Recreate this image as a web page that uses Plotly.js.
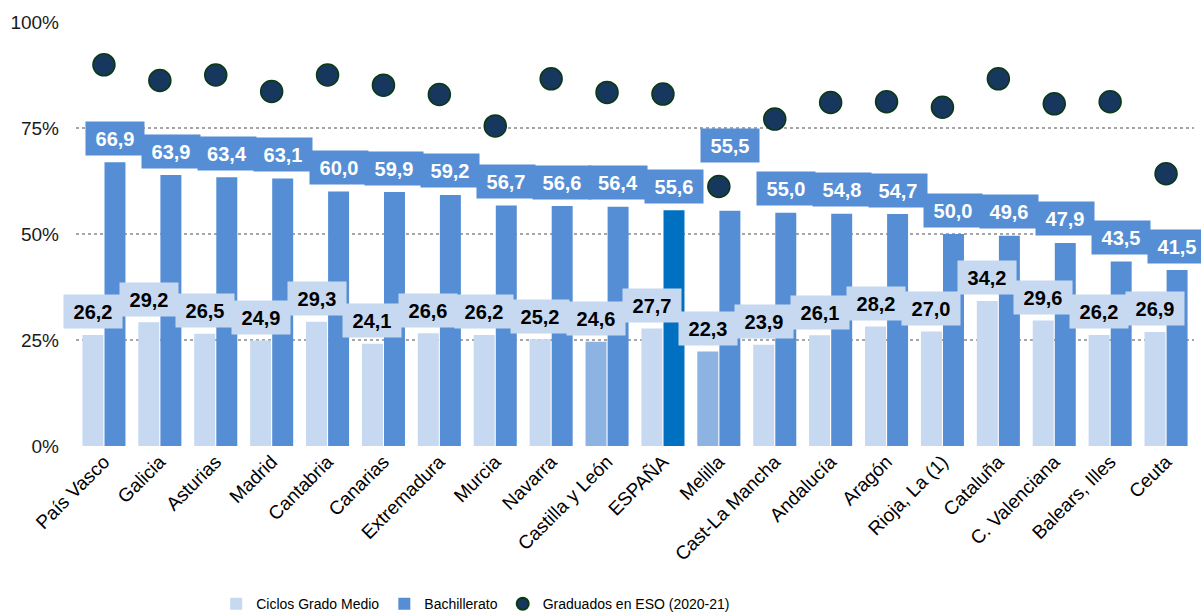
<!DOCTYPE html>
<html>
<head>
<meta charset="utf-8">
<script src="https://cdn.plot.ly/plotly-3.0.1.min.js"></script>
<style>html,body{margin:0;padding:0;background:#fff;}#chart{width:1201px;height:614px;}</style>
</head>
<body>
<div id="chart"></div>
<script>
var categories = ["País Vasco","Galicia","Asturias","Madrid","Cantabria","Canarias","Extremadura","Murcia","Navarra","Castilla y León","ESPAÑA","Melilla","Cast-La Mancha","Andalucía","Aragón","Rioja, La (1)","Cataluña","C. Valenciana","Balears, Illes","Ceuta"];
var ciclosGradoMedio = [26.2,29.2,26.5,24.9,29.3,24.1,26.6,26.2,25.2,24.6,27.7,22.3,23.9,26.1,28.2,27.0,34.2,29.6,26.2,26.9];
var bachillerato = [66.9,63.9,63.4,63.1,60.0,59.9,59.2,56.7,56.6,56.4,55.6,55.5,55.0,54.8,54.7,50.0,49.6,47.9,43.5,41.5];
var graduadosESO = [89.9,86.2,87.5,83.6,87.5,85.1,82.9,75.5,86.6,83.4,83.0,61.2,77.1,81.0,81.2,79.9,86.6,80.7,81.2,64.2];
var yTickVals = [0,25,50,75,100];
var yTickText = ["0%","25%","50%","75%","100%"];

var LIGHT = "#c6d9f1", LIGHT_HL = "#8db3e2", BLUE = "#558ed5", BLUE_HL = "#0070c0";
var lightHighlight = {"Castilla y León":1, "Melilla":1};
var blueHighlight = {"ESPAÑA":1};
var lightColors = categories.map(function(c){ return lightHighlight[c] ? LIGHT_HL : LIGHT; });
var blueColors = categories.map(function(c){ return blueHighlight[c] ? BLUE_HL : BLUE; });

var traces = [
  {type:"bar", name:"Ciclos Grado Medio", x:categories, y:ciclosGradoMedio,
   marker:{color:lightColors}, hoverinfo:"none"},
  {type:"bar", name:"Bachillerato", x:categories, y:bachillerato,
   marker:{color:blueColors}, hoverinfo:"none"},
  {type:"scatter", mode:"markers", name:"Graduados en ESO (2020-21)", x:categories, y:graduadosESO,
   marker:{color:"#17375e", size:22, line:{color:"#0b3a12", width:1.5}}, hoverinfo:"none"}
];

var BARGAP = 0.21;
var off = (1 - BARGAP) / 4;
var fmt = function(v){ return v.toFixed(1).replace(".", ","); };
var bachExtraShift = {"Melilla": 41};
var annotations = [];
categories.forEach(function(c, i){
  annotations.push({xref:"x", yref:"y", x:i - off, y:ciclosGradoMedio[i], yshift:23,
    text:"<b>"+fmt(ciclosGradoMedio[i])+"</b>", showarrow:false,
    font:{family:"Liberation Sans, Arial, sans-serif", size:20, color:"#000"},
    bgcolor:LIGHT, width:50, height:25, borderpad:4});
});
categories.forEach(function(c, i){
  annotations.push({xref:"x", yref:"y", x:i + off, y:bachillerato[i], yshift:24 + (bachExtraShift[c]||0),
    text:"<b>"+fmt(bachillerato[i])+"</b>", showarrow:false,
    font:{family:"Liberation Sans, Arial, sans-serif", size:20, color:"#fff"},
    bgcolor:BLUE, width:50, height:25, borderpad:4});
});

var layout = {
  width:1201, height:614,
  margin:{l:76, r:7, t:22, b:168},
  paper_bgcolor:"#fff", plot_bgcolor:"#fff",
  barmode:"group", bargap:BARGAP, bargroupgap:0.05,
  font:{family:"Liberation Sans, Arial, sans-serif", color:"#000"},
  showlegend:true,
  legend:{orientation:"h", xref:"container", yref:"container", x:0.18, xanchor:"left", y:0.016, yanchor:"middle",
    font:{family:"Liberation Sans, Arial, sans-serif", size:14, color:"#000"},
    itemsizing:"constant", traceorder:"normal"},
  xaxis:{type:"category", range:[-0.5, categories.length - 0.5], tickangle:-45, tickfont:{size:19, color:"#000"}, automargin:false,
    showgrid:false, showline:false, zeroline:false, ticks:"", fixedrange:true},
  yaxis:{range:[0,100], tickvals:yTickVals, ticktext:yTickText, automargin:false,
    tickfont:{size:19, color:"#1a1a1a"}, showgrid:true, gridcolor:"#a6a6a6", griddash:"dot", gridwidth:1.5,
    zeroline:false, showline:false, ticks:"", ticklabelstandoff:16, fixedrange:true},
  annotations:annotations
};

Plotly.newPlot("chart", traces, layout, {displayModeBar:false, staticPlot:true});
</script>
</body>
</html>
